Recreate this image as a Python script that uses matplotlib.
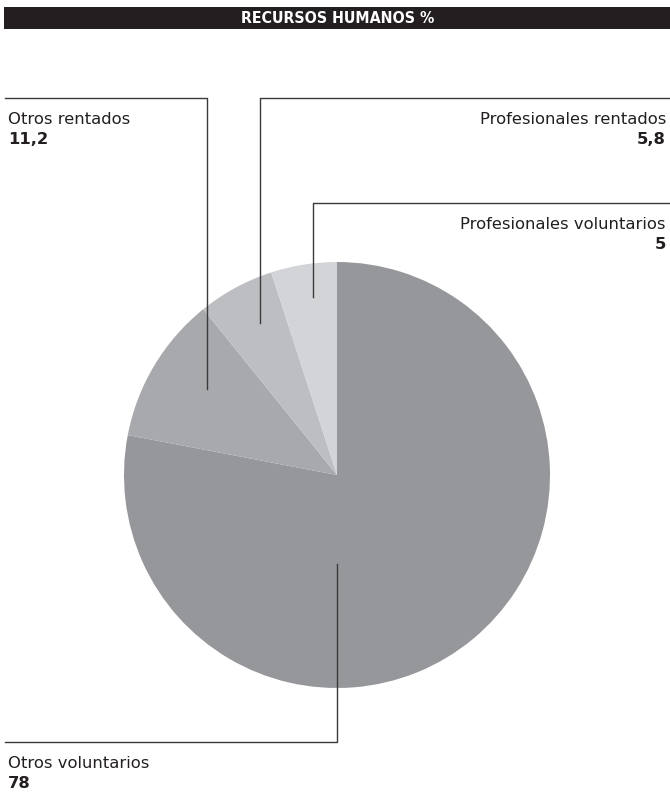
import numpy as np
import matplotlib.pyplot as plt

labels = ["Otros voluntarios", "Otros rentados", "Profesionales rentados", "Profesionales voluntarios"]
values = [78, 11.2, 5.8, 5]
value_text = ["78", "11,2", "5,8", "5"]
colors = ["#96979b", "#a8a9ad", "#bdbec2", "#d3d4d7"]

W, H = 670, 794
fig = plt.figure(figsize=(W / 100, H / 100), dpi=100)
ax = fig.add_axes([0, 0, 1, 1])

# pixel-like coordinates, y up
cx, cy, R = 337, H - 475, 213
wedges, _ = ax.pie(values, colors=colors, startangle=90, counterclock=False,
                   center=(cx, cy), radius=R, wedgeprops=dict(linewidth=0))
ax.set_xlim(0, W)
ax.set_ylim(0, H)
ax.set_aspect("equal")
ax.axis("off")

# title bar
ax.add_patch(plt.Rectangle((4, H - 29), W - 4, 22, color="#231f20", lw=0))
ax.text(338, H - 18.5, "RECURSOS HUMANOS %", color="white", fontsize=11.4,
        weight="bold", ha="center", va="center", family="DejaVu Sans",
        stretch="condensed")

LC = "#3a3a3a"
TC = "#231f20"
FS = 11.8


def anchor(i, frac, ang):
    a = np.radians(ang)
    return cx + frac * R * np.cos(a), cy + frac * R * np.sin(a)


def label(x, yline, i, ha):
    ax.text(x, yline - 26, labels[i], fontsize=FS, ha=ha, va="baseline", color=TC)
    ax.text(x, yline - 46, value_text[i], fontsize=FS, weight="bold", ha=ha,
            va="baseline", color=TC)


# Otros rentados -> up, then left
x0, y0 = anchor(1, 0.73, 146.5)
yl = H - 98
ax.plot([x0, x0, 5], [y0, yl, yl], color=LC, lw=1)
label(8, yl, 1, "left")

# Profesionales rentados -> up, then right
x0, y0 = anchor(2, 0.8, 117)
ax.plot([x0, x0, W], [y0, yl, yl], color=LC, lw=1)
label(666, yl, 2, "right")

# Profesionales voluntarios -> up, then right
x0, y0 = anchor(3, 0.845, 97.6)
yl2 = H - 203
ax.plot([x0, x0, W], [y0, yl2, yl2], color=LC, lw=1)
label(666, yl2, 3, "right")

# Otros voluntarios -> down, then left
x0, y0 = anchor(0, 0.42, -90)
yl3 = H - 742
ax.plot([x0, x0, 5], [y0, yl3, yl3], color=LC, lw=1)
label(8, yl3, 0, "left")

fig.savefig("out.png", dpi=100)
